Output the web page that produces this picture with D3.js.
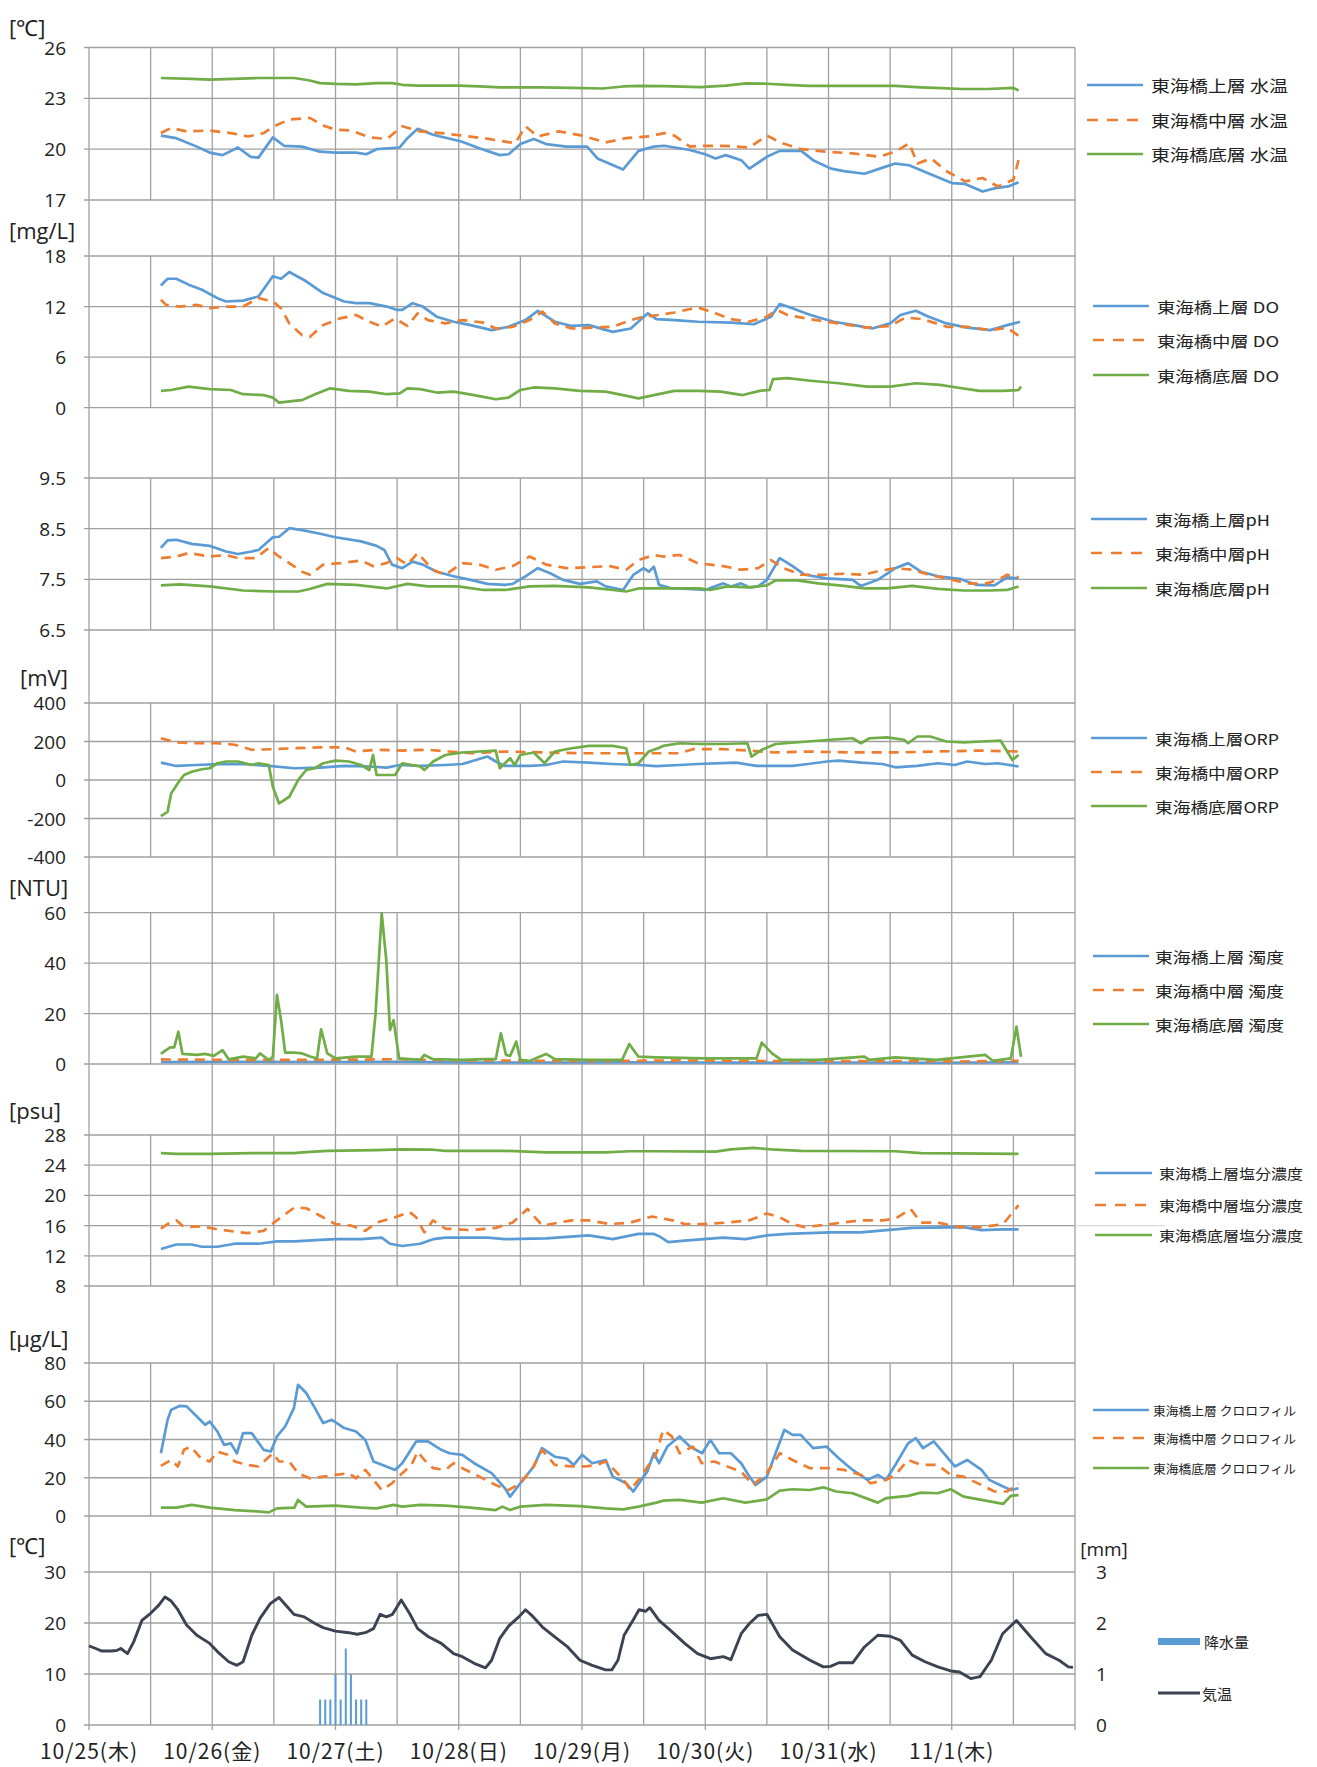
<!DOCTYPE html>
<html>
<head>
<meta charset="utf-8">
<script src="https://cdn.jsdelivr.net/npm/d3@7"></script>
<style>
  body { margin: 0; background: #ffffff; }
  svg { display: block; }
  text { fill: #222; }
</style>
</head>
<body>
<svg id="chart" width="1317" height="1767"></svg>
<script>
// Hours are counted from 10/25 00:00. Each series is a list of [hour, value].

// ---- water temperature [℃]
const tempUpper = [[14,20.8],[17,20.65],[21,20.15],[23.5,19.8],[26,19.65],[29,20.1],[31.5,19.55],[33,19.5],[35.8,20.7],[38,20.2],[41.5,20.15],[45,19.85],[48,19.8],[52,19.8],[54,19.7],[56,20.0],[60.5,20.1],[62,20.65],[64,21.2],[67,20.85],[72.5,20.45],[76,20.05],[80,19.65],[81.7,19.7],[84,20.3],[86.6,20.6],[89,20.3],[93,20.15],[97,20.15],[99,19.45],[104,18.8],[107,19.9],[110,20.15],[112,20.2],[117,19.95],[120,19.7],[122,19.45],[124,19.65],[127,19.35],[128.6,18.85],[132,19.55],[134.5,19.9],[138.7,19.9],[141,19.35],[144.5,18.85],[147,18.7],[151,18.55],[154,18.85],[157,19.15],[159.7,19.05],[164,18.5],[168,18.0],[170.6,17.95],[174,17.5],[176.5,17.7],[179,17.8],[181,18.05]];
const tempMiddle = [[14,20.95],[16,21.25],[19,21.05],[23.5,21.1],[27.6,20.95],[31,20.75],[34,20.95],[36,21.35],[39,21.75],[43,21.85],[45.6,21.4],[48,21.15],[51,21.1],[54.6,20.7],[58,20.6],[61,21.35],[64.5,21.05],[68.6,20.95],[72.7,20.8],[76.8,20.65],[81,20.45],[83,20.35],[85,21.35],[87.4,20.75],[91.5,21.05],[96,20.8],[100.6,20.4],[104.6,20.65],[109,20.75],[112,20.95],[114,20.8],[117,20.15],[119.3,20.2],[123.5,20.2],[128.6,20.1],[132,20.8],[135,20.35],[138.7,20.0],[143.7,19.85],[148.7,19.75],[153.8,19.55],[157,19.85],[159.7,20.35],[161.3,19.15],[164,19.45],[167,18.7],[170.6,18.1],[174,18.3],[177,17.8],[180,18.2],[181,19.35]];
const tempBottom = [[14,24.2],[20,24.15],[23.5,24.1],[28,24.15],[33,24.2],[40,24.2],[43,24.05],[45,23.9],[48,23.85],[52,23.82],[56,23.9],[59,23.9],[61,23.8],[64,23.75],[72,23.75],[76,23.7],[80,23.65],[88,23.65],[94,23.62],[100,23.58],[104,23.7],[107,23.74],[112,23.72],[119,23.66],[124,23.75],[128,23.88],[132,23.86],[136,23.8],[140,23.74],[150,23.74],[157,23.74],[162,23.65],[166,23.6],[170,23.55],[175,23.55],[180,23.62],[181,23.46]];

// ---- dissolved oxygen [mg/L]
const doUpper = [[14,14.5],[15.3,15.3],[17,15.3],[19.4,14.6],[22,14.0],[25,13.0],[26.7,12.6],[30,12.7],[33,13.2],[35.8,15.6],[37.4,15.3],[39,16.1],[42.3,15.0],[45.6,13.6],[49.7,12.6],[52,12.4],[54.6,12.4],[58,12.0],[60,11.6],[61,11.6],[63,12.4],[65,12.0],[67.7,10.8],[71,10.2],[74.3,9.8],[78.4,9.2],[81.7,9.6],[85,10.4],[87.4,11.5],[90.7,10.2],[94,9.7],[97.3,9.8],[102,9.0],[105.5,9.4],[108.8,11.2],[110.5,10.5],[114,10.4],[118.6,10.2],[125,10.1],[129.5,9.9],[132.8,10.8],[134.5,12.3],[136,12.0],[140.5,11.0],[145,10.2],[149,9.8],[152.5,9.4],[156,10.0],[158,11.0],[161,11.5],[163.5,10.8],[167,10.0],[171,9.5],[175.5,9.2],[178.8,9.8],[181.3,10.2]];
const doMiddle = [[14,12.8],[15,12.2],[17.7,12.0],[21,12.2],[23.5,11.8],[26.7,12.0],[30,12.0],[33,13.0],[35.8,12.6],[37.4,11.8],[39,10.0],[41.5,8.6],[43,8.4],[45.6,9.8],[48.9,10.6],[52,11.0],[54.6,10.2],[57,9.6],[59.6,10.6],[62,9.7],[64,11.2],[66,10.4],[69.4,10.0],[72.7,10.4],[76.8,10.1],[79.2,9.4],[82.5,9.6],[85.8,10.4],[88.3,11.4],[90.7,10.0],[94,9.4],[98,9.5],[102,9.6],[105.5,10.4],[108,10.8],[111,11.0],[114,11.3],[118.6,11.9],[122,11.2],[125,10.5],[128.5,10.2],[132,10.8],[134,11.6],[136,11.0],[140.5,10.5],[146,10.0],[151.5,9.5],[156,9.7],[159,10.7],[162.4,10.5],[167,9.6],[171,9.6],[175.5,9.2],[178.8,9.5],[181.3,8.4]];
const doBottom = [[14,2.0],[16,2.1],[19.4,2.5],[23.5,2.2],[27.6,2.1],[30,1.6],[34,1.5],[35.8,1.2],[37,0.6],[40,0.8],[41.5,0.9],[44,1.6],[47,2.3],[50.6,2.0],[54.6,1.9],[58,1.6],[60.5,1.7],[62,2.3],[64.5,2.2],[67.7,1.8],[71,1.9],[75,1.5],[79.2,1.0],[81.7,1.2],[84,2.1],[86.6,2.4],[90.7,2.3],[95.6,2.0],[100.6,1.9],[104,1.5],[107,1.1],[110,1.5],[114,2.0],[118.6,2.0],[123,1.9],[127.3,1.5],[130.6,2.0],[132.5,2.1],[133.2,3.4],[136,3.5],[140.5,3.2],[146,2.9],[151.5,2.5],[156,2.5],[161,2.9],[165.7,2.7],[169,2.4],[173.4,2.0],[177.8,2.0],[181,2.1],[181.5,2.5]];

// ---- pH
const phUpper = [[14,8.12],[15.3,8.27],[17,8.28],[20,8.2],[23.5,8.16],[26.7,8.05],[29,8.0],[31.7,8.05],[33,8.08],[35.8,8.33],[37,8.34],[39,8.51],[41.5,8.47],[45,8.4],[48,8.33],[53,8.25],[56,8.16],[57.5,8.08],[59,7.79],[61,7.72],[63,7.85],[65,7.79],[67.7,7.65],[71,7.56],[74.3,7.49],[77.6,7.41],[81,7.39],[82.5,7.41],[85,7.56],[87.4,7.72],[89.8,7.62],[92.3,7.49],[95.6,7.41],[98.9,7.46],[100.6,7.36],[104,7.29],[106,7.59],[108,7.72],[109,7.65],[110,7.75],[111,7.39],[113.6,7.32],[116.8,7.31],[120,7.29],[123.5,7.42],[125,7.36],[127,7.42],[128.6,7.34],[130.3,7.36],[132,7.49],[134.5,7.92],[137,7.76],[139.4,7.59],[143.6,7.52],[148.7,7.49],[150.3,7.37],[153.6,7.49],[157,7.72],[159.5,7.82],[162,7.65],[165.3,7.56],[169.5,7.51],[172.9,7.39],[176.3,7.38],[178.8,7.54],[181,7.52]];
const phMiddle = [[14,7.92],[17,7.95],[19.4,8.02],[23.5,7.95],[26.7,7.98],[29,7.92],[32.5,7.92],[35,8.12],[36.6,7.98],[39,7.82],[41.5,7.65],[43,7.59],[45.6,7.79],[48.9,7.82],[53,7.87],[55.4,7.76],[57.9,7.82],[60,7.92],[62,7.79],[64,8.02],[66.9,7.69],[69.4,7.59],[72.7,7.82],[76,7.79],[79.2,7.69],[82.5,7.76],[85.8,7.95],[89,7.79],[93,7.72],[97.3,7.74],[101.4,7.76],[104.6,7.69],[107,7.88],[110,7.98],[111.8,7.95],[115,7.98],[118.5,7.82],[123.5,7.76],[127,7.69],[130.3,7.72],[132.8,7.88],[135.3,7.72],[138.6,7.59],[142.7,7.59],[147,7.61],[151,7.59],[153.6,7.66],[157,7.72],[160.3,7.69],[163.6,7.59],[167,7.52],[171,7.42],[174.5,7.41],[177,7.49],[178.8,7.59],[181,7.54]];
const phBottom = [[14,7.38],[17.7,7.4],[23.5,7.36],[30,7.28],[35.8,7.26],[40.8,7.26],[43,7.31],[46.4,7.41],[52,7.39],[58,7.32],[62,7.41],[66,7.36],[71.9,7.36],[76.8,7.29],[81,7.29],[85.8,7.36],[90.7,7.37],[97.3,7.34],[102,7.29],[104.6,7.26],[107,7.32],[112,7.32],[119,7.32],[121,7.29],[124.3,7.36],[128.6,7.34],[132,7.38],[133.7,7.48],[137.9,7.48],[142,7.42],[147,7.37],[151,7.32],[155.4,7.32],[160.3,7.37],[165.3,7.31],[170.3,7.28],[175.3,7.28],[178.8,7.29],[181,7.36]];

// ---- ORP [mV]
const orpUpper = [[14,90],[17,73],[21,78],[25,82],[30,83],[35,73],[40,61],[45,64],[49.7,73],[54.6,70],[58,64],[60.5,78],[64.5,73],[69.4,78],[72.7,83],[75,101],[77.6,122],[79.2,96],[81,73],[85.8,73],[89,78],[92.3,96],[97.3,90],[102,83],[107,78],[110.5,72],[115,78],[118.5,83],[126,90],[130,73],[137,73],[140,83],[143.7,96],[146,101],[150.5,90],[154.5,83],[157,66],[161.3,73],[165.3,87],[168.6,78],[171,96],[174.5,83],[177,87],[181,70]];
const orpMiddle = [[14,217],[17,195],[20,191],[25,191],[28.4,183],[31.7,157],[35.8,160],[40,165],[45,170],[49.7,170],[52,148],[56,157],[61,153],[66,157],[70,148],[74.3,139],[81,148],[89,143],[95.6,139],[102,139],[108.8,139],[115,139],[117.6,160],[123.5,160],[128.6,153],[133.7,143],[140,148],[148.7,143],[157,143],[165.3,148],[173.8,153],[181,148]];
const orpBottom = [[14,-188],[15.3,-165],[16,-70],[17.3,-17],[18.5,26],[20,43],[22,56],[23.5,61],[25,87],[26.7,96],[29,96],[31.7,78],[33,87],[35,78],[35.8,-35],[37,-122],[39,-87],[40.8,3],[42.3,52],[44,61],[45.6,87],[48,101],[50.6,96],[53,78],[54.6,52],[55.3,130],[56,26],[59.6,26],[61,87],[64.5,70],[65.3,52],[67,96],[69.4,130],[72.7,143],[76,148],[79.2,153],[80,61],[82,113],[82.9,78],[84,130],[86.6,143],[88.7,87],[90.7,148],[94,165],[97.3,177],[102,177],[104.6,165],[105.4,78],[107,87],[109,148],[110.8,165],[111.8,177],[115,191],[119.3,187],[123.5,187],[128.2,191],[129,122],[131,157],[133.7,187],[140,200],[144.4,209],[148.7,217],[150.3,191],[152,217],[155.4,221],[158.7,209],[159.5,191],[161.3,226],[163.8,226],[167,200],[170.3,195],[173.8,200],[177.5,205],[179.8,104],[181,130]];

// ---- turbidity [NTU]
const turbUpper = [[14,0.8],[30,0.9],[45,0.8],[60,0.9],[75,0.6],[90,0.6],[105,0.7],[120,0.6],[135,0.5],[150,0.6],[165,0.5],[181,0.7]];
const turbMiddle = [[14,1.8],[30,1.6],[45,1.6],[60,1.9],[70,1.5],[85,1.3],[100,1.2],[115,1.4],[130,1.2],[145,1.1],[160,1.2],[170,1.0],[181,1.3]];
const turbBottom = [[14,4],[15,5.5],[15.8,6.6],[16.6,6.6],[17.4,12.8],[18.2,4],[21,3.6],[22.6,4],[24.3,3.2],[26,5.5],[27.2,1.9],[30,2.9],[32.5,2.2],[33.3,4.2],[35,1.6],[35.8,2.9],[36.6,27.4],[37.4,17.4],[38.2,4.5],[39.9,4.5],[41.5,4.2],[43.2,2.9],[44.4,2.2],[45.2,13.7],[46.4,4.2],[48,2.2],[52,2.9],[55,2.9],[55.8,20],[57,59.7],[57.9,41],[58.6,13.5],[59.3,17.4],[60.4,2.2],[64.5,1.6],[65.3,3.6],[67,1.9],[72.7,1.6],[76.8,1.9],[79.2,1.9],[80.2,12.2],[81.2,3.6],[82,3.2],[83.2,8.9],[84,1.6],[85.8,1.2],[89,4],[90.7,1.9],[97.3,1.6],[103.8,1.6],[105.2,7.9],[107,2.9],[110.5,2.6],[120,2.2],[130,2.2],[131,8.5],[133,4.2],[134.8,1.6],[142,1.6],[151,2.9],[152,1.6],[157,2.6],[165,1.6],[174.5,3.6],[176,1.3],[179.5,2.2],[180.6,14.8],[181.5,2.9]];

// ---- salinity [psu]
const salUpper = [[14,12.9],[17,13.5],[20,13.5],[22,13.2],[25,13.2],[28.4,13.6],[33,13.6],[36.6,13.9],[40,13.9],[45,14.1],[48,14.2],[53,14.2],[57,14.4],[58.6,13.6],[61,13.3],[64.5,13.6],[67,14.2],[69.4,14.4],[77.6,14.4],[81,14.2],[89,14.3],[97.3,14.7],[102,14.2],[107,14.9],[110,14.9],[111,14.6],[112.8,13.8],[116,14.0],[123.5,14.4],[127.8,14.2],[132,14.7],[136,14.9],[144.4,15.1],[150.3,15.1],[157,15.5],[160.3,15.7],[170.3,15.8],[173.8,15.4],[178,15.5],[181,15.5]];
const salMiddle = [[14,15.6],[15.3,16.2],[17,16.7],[18.5,15.8],[22,15.9],[25,15.5],[28.4,15.2],[30.8,15.0],[34,15.3],[36.6,16.7],[40,18.4],[42.3,18.3],[45,17.3],[48,16.2],[51,16.0],[53.8,15.3],[56,16.4],[59.6,17.1],[62.4,17.8],[63.7,17.1],[65.3,15.1],[67,16.7],[69.4,15.6],[74.3,15.4],[79.2,15.7],[82.5,16.4],[85.4,18.2],[88.3,16.0],[91.5,16.4],[94,16.7],[97.3,16.7],[101.4,16.2],[105.4,16.4],[109.6,17.2],[113.6,16.7],[116,16.2],[119.4,16.2],[124.3,16.4],[128.6,16.7],[132,17.6],[134.5,17.1],[137,16.2],[139.4,15.8],[144.4,16.2],[150.3,16.7],[154.5,16.7],[157,16.9],[160,18.2],[162,16.4],[165.3,16.4],[169.5,15.8],[173.8,15.8],[178,16.2],[181,18.7]];
const salBottom = [[14,25.6],[17,25.5],[23.5,25.5],[31.7,25.6],[40,25.6],[41.5,25.7],[46.4,25.9],[56,26.0],[60.5,26.1],[67,26.05],[69.4,25.9],[81,25.9],[89,25.7],[100.6,25.7],[105.4,25.85],[110.5,25.85],[122,25.8],[125,26.1],[129.3,26.3],[133.7,26.05],[138.7,25.9],[157,25.85],[162,25.6],[181,25.5]];

// ---- chlorophyll [µg/L]
const chlUpper = [[14,32.8],[15.3,50.3],[16,55.5],[17.7,57.6],[19,57.3],[21,52],[22.6,47.7],[23.5,49.4],[25,44.2],[26.3,37.2],[27.6,38],[28.8,32.8],[30,43.3],[31.7,43.3],[34,34.6],[35.4,33.7],[36.6,41.6],[38.2,46.8],[39.9,56.4],[40.7,68.6],[42.3,64.3],[44,56.4],[45.6,48.6],[47.3,50.3],[49.7,46],[52,44.2],[53.8,39.8],[55.4,28.5],[57.9,25.9],[59.6,24.1],[61,27.6],[63.7,39],[66,39],[68.6,34.6],[70.2,32.8],[72.7,32],[75,27.6],[78.4,22.4],[81,14.5],[82,10.1],[84,17.1],[86.6,25.9],[88.2,35.5],[90.7,31],[93,30],[94.4,26.7],[96,32],[98,27.6],[100.6,29.3],[102,20.6],[104.6,17.1],[106,12.8],[108,20.6],[108.7,23.2],[110,32.8],[111,27.6],[112.6,36.3],[115,41.6],[117,36.3],[119.4,32.8],[121,39.8],[122.7,32.8],[125,32.8],[127,27.6],[128.6,20.6],[129.8,16.2],[132,20.6],[133.7,32.8],[135.4,45],[137,42.4],[138.6,42.4],[141,35.5],[143.6,36.3],[146,30.2],[148.7,24.1],[151.6,18.9],[153.6,21.5],[155.2,18.9],[157,26.7],[159.5,38],[161,40.7],[162.4,35.5],[164.5,39],[167,31],[168.6,25.9],[171,29.3],[173.8,24.1],[175.3,18.9],[178,15.4],[179.5,13.6],[181,14.5]];
const chlMiddle = [[14,26.2],[16,29.3],[17.3,25.9],[18.5,34.6],[19.8,36.3],[21.8,30.2],[23.5,28.5],[25,33.7],[27,32],[28.4,28.5],[30.8,26.7],[33,25.9],[35.8,32.8],[37,28.5],[39,28.5],[40.7,22.4],[43,19.7],[45.6,20.6],[48,21.5],[50.6,22.4],[52,19.7],[53.8,24.1],[55.4,18.9],[57,13.6],[59,17.1],[61,22.4],[62.8,26.7],[64,33.7],[65.3,29.3],[67,25],[69.4,24.1],[71,27.6],[72.7,25],[76,20.6],[79.2,16.2],[81.7,13.6],[84,17.1],[86.6,25.9],[88.2,34.6],[90.7,26.7],[94,25.9],[96.5,25.9],[98.9,26.7],[100.6,28.5],[102.6,23.2],[104.6,17.1],[105.4,13.6],[107,18.9],[108.8,25.9],[110.5,32.8],[111.8,45],[113.5,41.6],[115,32.8],[117.6,36.3],[119.3,27.6],[121.8,28.5],[124.3,25.9],[127,23.2],[129.3,16.2],[132,22.4],[134.5,32.8],[137,29.3],[140.4,25],[143.7,25],[147,24.1],[150.3,21.5],[152.2,17.1],[155.2,18.9],[157,21.5],[159.5,29.3],[162,26.7],[165.3,26.7],[167.8,21.5],[170.3,20.6],[173.8,16.2],[176.3,12.8],[178.8,12.8],[181,17.1]];
const chlBottom = [[14,4.4],[17,4.4],[20,5.8],[23.5,4.4],[28.4,3.1],[31.7,2.6],[35,1.9],[36.6,4.0],[40,4.4],[40.7,8.4],[42.3,4.9],[48,5.4],[53,4.4],[56,4.0],[59.3,5.8],[61,4.9],[64.5,5.8],[69.4,5.4],[74.3,4.4],[79.2,3.1],[80.5,4.9],[82,3.1],[84,4.9],[89,5.8],[95.6,5.2],[100.6,4.0],[104,3.5],[107,4.9],[110.5,7],[111.8,8],[115,8.4],[119.3,7],[123.5,9.3],[127.8,7],[132,8.7],[134.5,13.3],[137,14],[140.4,13.6],[143,15],[145.5,12.8],[148.7,11.9],[153.6,7],[155.2,9.3],[159.5,10.5],[162,12.2],[165.3,11.9],[167.8,14],[170.3,10.1],[173.8,8.4],[178,6.3],[179.5,10.5],[181,11]];

// ---- air temperature [℃] and precipitation [mm]
const airTemp = [[0,15.5],[1.3,15],[2.5,14.5],[4.2,14.5],[5.4,14.6],[6.2,15],[7.5,14],[8.7,16.3],[10.3,20.5],[12,21.9],[13.6,23.5],[14.8,25.1],[16,24.3],[17.3,22.6],[19,19.6],[21,17.6],[23.5,16],[25,14.4],[27.2,12.4],[28.8,11.7],[30,12.4],[31.7,17.6],[33.3,20.9],[35.3,23.8],[37,25],[38.6,23.2],[39.9,21.7],[41.9,21.2],[44,19.9],[45.6,19.1],[48,18.4],[50.6,18.1],[52.2,17.8],[53.8,18.1],[55.4,18.9],[56.7,21.7],[57.9,21.2],[59.1,21.7],[60.8,24.5],[62.4,21.9],[64,18.9],[66.1,17.3],[68.6,16],[71,14],[72.7,13.4],[75,12.1],[77.2,11.2],[78.4,12.7],[80,17],[81.7,19.4],[83.7,21.2],[85,22.6],[86.2,21.5],[88.3,19.2],[90.7,17.3],[93.2,15.3],[95.6,12.7],[98,11.7],[100.6,10.8],[101.8,10.8],[103,12.7],[104.2,17.6],[105.9,20.5],[107.1,22.6],[108.4,22.3],[109.2,23],[111,20.5],[113.5,18.3],[116,16],[118.5,14],[121,13],[123.5,13.4],[125,12.8],[127,17.9],[128.6,19.9],[130.3,21.5],[132,21.7],[134.5,17.3],[137,14.7],[140.4,12.7],[143,11.4],[144.4,11.5],[146,12.2],[148.7,12.2],[151,15.3],[153.6,17.6],[156,17.4],[158,16.6],[160.3,13.7],[162.8,12.4],[165.3,11.4],[167.8,10.6],[169.5,10.4],[171.7,9.1],[173.5,9.5],[175.7,12.7],[177.9,17.9],[180.6,20.5],[183.6,17],[186.3,14],[188.9,12.7],[190.7,11.4],[191.6,11.3]];
const rainfall = [[45,0.5],[46,0.5],[47,0.5],[48,1.0],[49,0.5],[50,1.5],[51,1.0],[52,0.5],[53,0.5],[54,0.5]];

// ---- tick labels and names
const dayLabels = ["10/25(木)","10/26(金)","10/27(土)","10/28(日)","10/29(月)","10/30(火)","10/31(水)","11/1(木)"];
const tempTicks = [17, 20, 23, 26];
const doTicks = [0, 6, 12, 18];
const phTicks = [6.5, 7.5, 8.5, 9.5];
const orpTicks = [-400, -200, 0, 200, 400];
const turbTicks = [0, 20, 40, 60];
const salTicks = [8, 12, 16, 20, 24, 28];
const chlTicks = [0, 20, 40, 60, 80];
const airTicks = [0, 10, 20, 30];
const rainTicks = [0, 1, 2, 3];
const layerNames = ["東海橋上層", "東海橋中層", "東海橋底層"];

// ---------------------------------------------------------------------------
const svg = d3.select("#chart");
const X0 = 89, X1 = 1075;
const x = d3.scaleLinear().domain([0, 192]).range([X0, X1]);

const GRID = "#a0a0a0";
const colors = ["#5b9bd5", "#ed7d31", "#70ad47"];
const TICK_FONT = "'Open Sans', sans-serif";
const JP_FONT = "'Noto Sans CJK JP', sans-serif";
const plain = d => String(d);           // integers with an ASCII hyphen for negatives
const oneDecimal = d => d.toFixed(1);

const panels = [
  { unit: "[℃]", unitX: 9, unitY: 27, top: 47.5, bottom: 200, domain: [17, 26], ticks: tempTicks, fmt: plain,
    series: [tempUpper, tempMiddle, tempBottom], suffix: " 水温",
    legend: { x1: 1087, x2: 1143, tx: 1151, tw: 137, rows: [85, 120, 154], fs: 16 } },
  { unit: "[mg/L]", unitX: 9, unitY: 230, top: 256, bottom: 407.7, domain: [0, 18], ticks: doTicks, fmt: plain,
    series: [doUpper, doMiddle, doBottom], suffix: " DO",
    legend: { x1: 1093, x2: 1149, tx: 1157, tw: 122, rows: [306, 340, 375], fs: 15 } },
  { unit: null, top: 478, bottom: 630, domain: [6.5, 9.5], ticks: phTicks, fmt: oneDecimal,
    series: [phUpper, phMiddle, phBottom], suffix: "pH",
    legend: { x1: 1091, x2: 1147, tx: 1155, tw: 115, rows: [519, 553, 588], fs: 15 } },
  { unit: "[mV]", unitX: 20, unitY: 677, top: 703, bottom: 857, domain: [-400, 400], ticks: orpTicks, fmt: plain,
    series: [orpUpper, orpMiddle, orpBottom], suffix: "ORP",
    legend: { x1: 1091, x2: 1147, tx: 1155, tw: 124, rows: [738, 772, 806], fs: 15 } },
  { unit: "[NTU]", unitX: 9, unitY: 887, top: 912.7, bottom: 1064, domain: [0, 60], ticks: turbTicks, fmt: plain,
    series: [turbUpper, turbMiddle, turbBottom], suffix: " 濁度",
    legend: { x1: 1093, x2: 1149, tx: 1155, tw: 129, rows: [956, 990, 1024], fs: 15 } },
  { unit: "[psu]", unitX: 9, unitY: 1110, top: 1135, bottom: 1286, domain: [8, 28], ticks: salTicks, fmt: plain,
    series: [salUpper, salMiddle, salBottom], suffix: "塩分濃度",
    legend: { x1: 1095, x2: 1152, tx: 1159, tw: 144, rows: [1173, 1205, 1235], fs: 14 } },
  { unit: "[µg/L]", unitX: 9, unitY: 1338, top: 1363, bottom: 1516, domain: [0, 80], ticks: chlTicks, fmt: plain,
    series: [chlUpper, chlMiddle, chlBottom], suffix: " クロロフィル",
    legend: { x1: 1093, x2: 1149, tx: 1153, tw: 143, rows: [1410, 1438, 1468], fs: 12.5 } },
  { unit: "[℃]", unitX: 9, unitY: 1545, top: 1572, bottom: 1725, domain: [0, 30], ticks: airTicks, fmt: plain }
];

const gridTop = panels[0].top, gridBottom = panels[panels.length - 1].bottom;

// grid layer (drawn first, under every line)
const gGrid = svg.append("g").attr("stroke", GRID).attr("stroke-width", 1.3).attr("fill", "none");

// day lines run through all panels
const midnights = d3.range(0, 193, 24);
gGrid.selectAll("line.day").data(midnights).join("line")
  .attr("x1", d => x(d)).attr("x2", d => x(d))
  .attr("y1", gridTop).attr("y2", gridBottom + 5);

panels.forEach(p => {
  p.y = d3.scaleLinear().domain(p.domain).range([p.bottom, p.top]);
  // horizontal grid lines with short tick stubs on the left
  gGrid.append("g").selectAll("line").data(p.ticks).join("line")
    .attr("x1", X0 - 5).attr("x2", X1)
    .attr("y1", d => p.y(d)).attr("y2", d => p.y(d));
  // half-day lines inside the panel
  gGrid.append("g").selectAll("line").data(d3.range(12, 192, 24)).join("line")
    .attr("x1", d => x(d)).attr("x2", d => x(d))
    .attr("y1", p.top).attr("y2", p.bottom);
  // tick labels
  svg.append("g").selectAll("text").data(p.ticks).join("text")
    .attr("x", 66).attr("y", d => p.y(d))
    .attr("text-anchor", "end").attr("dominant-baseline", "central")
    .style("font-family", TICK_FONT).style("font-size", "19px")
    .text(d => p.fmt(d));
  if (p.unit) {
    svg.append("text").attr("x", p.unitX).attr("y", p.unitY)
      .attr("dominant-baseline", "central")
      .style("font-family", TICK_FONT).style("font-size", "22px")
      .text(p.unit);
  }
});

// faint stray line at psu 16 reaching into the legend area
const sal = panels[5];
gGrid.append("line").attr("x1", X1).attr("x2", 1165)
  .attr("y1", sal.y(16)).attr("y2", sal.y(16)).attr("stroke", "#dadada");

const line = y => d3.line().x(d => x(d[0])).y(d => y(d[1]));

// water-quality series and their legends
panels.filter(p => p.series).forEach(p => {
  const g = svg.append("g").attr("fill", "none").attr("stroke-linejoin", "round");
  p.series.forEach((s, i) => {
    g.append("path").datum(s)
      .attr("d", line(p.y))
      .attr("stroke", colors[i]).attr("stroke-width", 2.7)
      .attr("stroke-dasharray", i === 1 ? "10,7" : null);
  });
  const L = p.legend;
  const lg = svg.append("g");
  layerNames.forEach((name, i) => {
    const yy = L.rows[i];
    lg.append("line").attr("x1", L.x1).attr("x2", L.x2).attr("y1", yy).attr("y2", yy)
      .attr("stroke", colors[i]).attr("stroke-width", 2.7)
      .attr("stroke-dasharray", i === 1 ? "11,9" : null);
    lg.append("text").attr("x", L.tx).attr("y", yy)
      .attr("dominant-baseline", "central")
      .attr("textLength", L.tw).attr("lengthAdjust", "spacingAndGlyphs")
      .style("font-family", JP_FONT).style("font-size", L.fs + "px")
      .text(name + p.suffix);
  });
});

// bottom panel: precipitation bars on the right-hand axis, air temperature line
const air = panels[panels.length - 1];
const yRain = d3.scaleLinear().domain([0, 3]).range([air.bottom, air.top]);
svg.append("g").selectAll("rect").data(rainfall).join("rect")
  .attr("x", d => x(d[0]) - 1).attr("width", 2)
  .attr("y", d => yRain(d[1])).attr("height", d => yRain(0) - yRain(d[1]))
  .attr("fill", "#5b9bd5");
svg.append("path").datum(airTemp)
  .attr("d", line(air.y))
  .attr("fill", "none").attr("stroke", "#3b4252").attr("stroke-width", 2.9)
  .attr("stroke-linejoin", "round");

svg.append("g").selectAll("text").data(rainTicks).join("text")
  .attr("x", 1096).attr("y", d => yRain(d))
  .attr("dominant-baseline", "central")
  .style("font-family", TICK_FONT).style("font-size", "19px")
  .text(d => d);
svg.append("text").attr("x", 1104).attr("y", 1549)
  .attr("text-anchor", "middle").attr("dominant-baseline", "central")
  .style("font-family", TICK_FONT).style("font-size", "19px")
  .text("[mm]");

// bottom legend
svg.append("rect").attr("x", 1158).attr("y", 1638).attr("width", 42).attr("height", 7).attr("fill", "#5b9bd5");
svg.append("text").attr("x", 1204).attr("y", 1641).attr("dominant-baseline", "central")
  .style("font-family", JP_FONT).style("font-size", "15px").text("降水量");
svg.append("line").attr("x1", 1158).attr("x2", 1200).attr("y1", 1693).attr("y2", 1693)
  .attr("stroke", "#3b4252").attr("stroke-width", 2.9);
svg.append("text").attr("x", 1202).attr("y", 1693).attr("dominant-baseline", "central")
  .style("font-family", JP_FONT).style("font-size", "15px").text("気温");

// day labels along the bottom
svg.append("g").selectAll("text").data(dayLabels).join("text")
  .attr("x", (d, i) => x(i * 24)).attr("y", 1750)
  .attr("text-anchor", "middle").attr("dominant-baseline", "central")
  .style("font-family", JP_FONT).style("font-size", "21px")
  .style("letter-spacing", "1px")
  .text(d => d);
</script>
</body>
</html>
